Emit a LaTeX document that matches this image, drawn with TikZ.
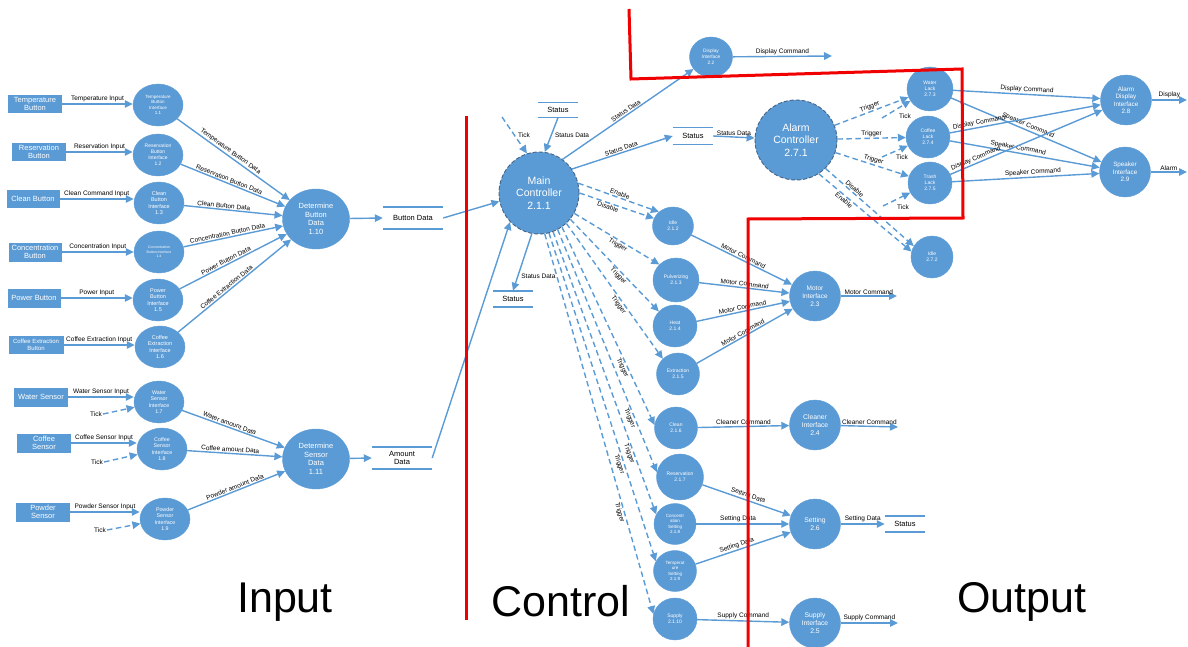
\documentclass[tikz,border=0pt]{standalone}
\usepackage{fontspec}
\setmainfont{Liberation Sans}
\usetikzlibrary{shapes.geometric,arrows.meta}
\definecolor{nblue}{RGB}{91,155,213}
\definecolor{ndash}{RGB}{70,100,135}
\definecolor{nred}{RGB}{240,0,0}
\begin{document}
\begin{tikzpicture}[x=1pt,y=-1pt,
 ent/.style={rectangle,fill=nblue,text=white,align=center,inner sep=0pt,font=\fontsize{7.5}{8.5}\selectfont},
 proc/.style={ellipse,fill=nblue,draw=nblue,text=white,align=center,inner sep=0pt},
 ctrlproc/.style={proc,draw=ndash,line width=0.9pt,dash pattern=on 4pt off 2pt},
 store/.style={inner sep=0pt,align=center,font=\fontsize{7.5}{8.5}\selectfont},
 flow/.style={draw=nblue,line width=1.4pt,-{Triangle[length=8pt,width=7.5pt]}},
 ctl/.style={flow,dash pattern=on 5.5pt off 3.5pt},
 lbl/.style={font=\fontsize{6.5}{7.5}\selectfont,inner sep=1pt,text=black},
 redl/.style={draw=nred,line width=3pt},
 big/.style={font=\fontsize{43}{50}\selectfont,inner sep=0pt},
 fs/.style 2 args={font=\fontsize{#1}{#2}\selectfont},
 wh/.style 2 args={minimum width=#1,minimum height=#2}]
\useasboundingbox (0,0) rectangle (1188,647);

% ---------- Input entities ----------
\node[ent,wh={54}{18}] (eTemp) at (35,104) {Temperature\\Button};
\node[ent,wh={54}{18}] (eRes) at (39,152) {Reservation\\Button};
\node[ent,wh={53}{18}] (eClean) at (33,199) {Clean Button};
\node[ent,wh={53}{19}] (eConc) at (35,252) {Concentration\\Button};
\node[ent,wh={53}{19}] (ePow) at (34,298) {Power Button};
\node[ent,wh={55}{18},fs={6}{7.5}] (eCoffEx) at (36,345) {Coffee Extraction\\Button};
\node[ent,wh={54}{19}] (eWater) at (41,397) {Water Sensor};
\node[ent,wh={54}{19}] (eCoffS) at (44,443) {Coffee\\Sensor};
\node[ent,wh={54}{19}] (ePowd) at (43,512) {Powder\\Sensor};

% ---------- Input interfaces ----------
\node[proc,wh={50}{42},fs={4.5}{5.2}] (i11) at (158,105) {Temperature\\Button\\Interface\\1.1};
\node[proc,wh={50}{42},fs={5}{6}] (i12) at (158,155) {Reservation\\Button\\Interface\\1.2};
\node[proc,wh={50}{42},fs={5.5}{6.5}] (i13) at (159,203) {Clean\\Button\\Interface\\1.3};
\node[proc,wh={50}{42},fs={3.5}{4.5}] (i14) at (159,252) {Concentration\\Button Interface\\1.4};
\node[proc,wh={50}{42},fs={5.5}{6.5}] (i15) at (158,300) {Power\\Button\\Interface\\1.5};
\node[proc,wh={50}{42},fs={5.5}{6.5}] (i16) at (160,347) {Coffee\\Extraction\\Interface\\1.6};
\node[proc,wh={50}{42},fs={5.3}{6.5}] (i17) at (159,402) {Water\\Sensor\\Interface\\1.7};
\node[proc,wh={50}{42},fs={5.3}{6.5}] (i18) at (162,449) {Coffee\\Sensor\\Interface\\1.8};
\node[proc,wh={50}{42},fs={5.3}{6.5}] (i19) at (165,519) {Powder\\Sensor\\Interface\\1.9};

\node[proc,wh={67}{60},fs={7.5}{8.5}] (dbd) at (316,219) {Determine\\Button\\Data\\1.10};
\node[proc,wh={67}{60},fs={7.5}{8.5}] (dsd) at (316,459) {Determine\\Sensor\\Data\\1.11};

% ---------- Stores ----------
\node[store,wh={60}{22}] (sBtn) at (413,218) {Button Data};
\node[store,wh={60}{22}] (sAmt) at (402,458) {Amount\\Data};
\node[store,wh={40}{15}] (sTop) at (558,110) {Status};
\node[store,wh={40}{17}] (sMid) at (693,136) {Status};
\node[store,wh={40}{16}] (sBot) at (513,299) {Status};
\node[store,wh={40}{16}] (sRight) at (905,524) {Status};
\foreach \s in {sBtn,sAmt,sTop,sMid,sBot,sRight}
  \draw[nblue,line width=1.5pt] (\s.north west) -- (\s.north east) (\s.south west) -- (\s.south east);

% ---------- Control ----------
\node[ctrlproc,wh={80}{82},fs={10.5}{12.5}] (main) at (539,193) {Main\\Controller\\2.1.1};
\node[proc,wh={43}{40},fs={4.8}{5.8}] (dispI) at (711,57) {Display\\Interface\\2.2};
\node[proc,wh={41}{38},fs={5}{6}] (idle212) at (673,226) {Idle\\2.1.2};
\node[proc,wh={46}{44},fs={5}{6}] (pulv) at (676,280) {Pulverizing\\2.1.3};
\node[proc,wh={44}{42},fs={5}{6}] (heat) at (675,326) {Heat\\2.1.4};
\node[proc,wh={43}{42},fs={5}{6}] (extr) at (678,374) {Extraction\\2.1.5};
\node[proc,wh={43}{42},fs={5}{6}] (clean) at (676,428) {Clean\\2.1.6};
\node[proc,wh={47}{46},fs={5}{6}] (resv) at (680,477) {Reservation\\2.1.7};
\node[proc,wh={42}{41},fs={4.5}{5.5}] (conc) at (675,524) {Concentr\\ation\\Setting\\2.1.8};
\node[proc,wh={43}{41},fs={4.5}{5.5}] (temp) at (675,571) {Temperat\\ure\\Setting\\2.1.9};
\node[proc,wh={44}{42},fs={5}{6}] (supply) at (675,619) {Supply\\2.1.10};

% ---------- Output ----------
\node[proc,wh={51}{50},fs={6.5}{8}] (motor) at (815,296) {Motor\\Interface\\2.3};
\node[proc,wh={51}{50},fs={6.8}{8}] (cleaner) at (815,425) {Cleaner\\Interface\\2.4};
\node[proc,wh={51}{50},fs={6.8}{8}] (setting) at (815,524) {Setting\\2.6};
\node[proc,wh={51}{50},fs={6.8}{8}] (supplyI) at (815,623) {Supply\\Interface\\2.5};

\node[ctrlproc,wh={82}{80},fs={10.5}{12.5}] (alarm) at (796,140) {Alarm\\Controller\\2.7.1};
\node[proc,wh={46}{44},fs={5}{6}] (waterL) at (930,89) {Water\\Lack\\2.7.3};
\node[proc,wh={44}{42},fs={5}{6}] (coffL) at (928,137) {Coffee\\Lack\\2.7.4};
\node[proc,wh={44}{42},fs={5}{6}] (trashL) at (930,183) {Trash\\Lack\\2.7.5};
\node[proc,wh={42}{42},fs={5}{6}] (idle272) at (932,257) {Idle\\2.7.2};
\node[proc,wh={51}{50},fs={6.3}{7.5}] (alarmD) at (1126,100) {Alarm\\Display\\Interface\\2.8};
\node[proc,wh={51}{50},fs={6.3}{7.5}] (speaker) at (1125,172) {Speaker\\Interface\\2.9};

% free ends
\coordinate (dispOut) at (832,56);
\coordinate (motorOut) at (897,296);
\coordinate (cleanerOut) at (898,427);
\coordinate (supplyOut) at (898,623);
\coordinate (displayOut) at (1187,100);
\coordinate (alarmOut) at (1187,172);
\coordinate (tkMain) at (502,117);
\coordinate (tk273) at (882,118);
\coordinate (tk274) at (882,157);
\coordinate (tk275) at (883,206);

% ---------- Input flows ----------
\draw[flow] (eTemp.east) -- node[lbl,above]{Temperature Input} (eTemp.east -| i11.west);
\draw[flow] (eRes.east) -- node[lbl,above]{Reservation Input} (eRes.east -| i12.west);
\draw[flow] (eClean.east) -- node[lbl,above]{Clean Command Input} (eClean.east -| i13.west);
\draw[flow] (eConc.east) -- node[lbl,above]{Concentration Input} (eConc.east -| i14.west);
\draw[flow] (ePow.east) -- node[lbl,above]{Power Input} (ePow.east -| i15.west);
\draw[flow] (eCoffEx.east) -- node[lbl,above]{Coffee Extraction Input} (eCoffEx.east -| i16.west);
\draw[flow] (eWater.east) -- node[lbl,above]{Water Sensor Input} (eWater.east -| i17.west);
\draw[flow] (eCoffS.east) -- node[lbl,above]{Coffee Sensor Input} (eCoffS.east -| i18.west);
\draw[flow] (ePowd.east) -- node[lbl,above]{Powder Sensor Input} (ePowd.east -| i19.west);

\node[lbl] (tk17) at (96,414) {Tick};
\node[lbl] (tk18) at (97,462) {Tick};
\node[lbl] (tk19) at (100,530) {Tick};
\draw[ctl] (tk17.east) -- (i17);
\draw[ctl] (tk18.east) -- (i18);
\draw[ctl] (tk19.east) -- (i19);

\draw[flow] (i11) -- node[lbl,sloped,above,pos=0.45]{Temperature Button Data} (dbd);
\draw[flow] (i12) -- node[lbl,sloped,above,pos=0.45]{Reservation Button Data} (dbd);
\draw[flow] (i13) -- node[lbl,sloped,above,pos=0.4]{Clean Button Data} (dbd);
\draw[flow] (i14) -- node[lbl,sloped,above,pos=0.45]{Concentration Button Data} (dbd);
\draw[flow] (i15) -- node[lbl,sloped,above,pos=0.45]{Power Button Data} (dbd);
\draw[flow] (i16) -- node[lbl,sloped,above,pos=0.45]{Coffee Extraction Data} (dbd);
\draw[flow] (i17) -- node[lbl,sloped,above,pos=0.45]{Water amount Data} (dsd);
\draw[flow] (i18) -- node[lbl,sloped,above,pos=0.45]{Coffee amount Data} (dsd);
\draw[flow] (i19) -- node[lbl,sloped,above,pos=0.5]{Powder amount Data} (dsd);

\draw[flow] (dbd) -- (sBtn.west);
\draw[flow] (dsd) -- (sAmt.west);
\draw[flow] (sBtn.east) -- (main.-168);
\draw[flow] (sAmt.east) -- (main.-135);

% ---------- Main controller flows ----------
\draw[ctl] (tkMain) -- node[lbl,right=2pt]{Tick} (main.107);
\draw[flow] (sTop.south) -- node[lbl,right=2pt]{Status Data} (main.82);
\draw[flow] (main.55) -- node[lbl,sloped,above,pos=0.5]{Status Data} (dispI);
\draw[flow] (main.36) -- node[lbl,sloped,above,pos=0.5]{Status Data} (sMid.west);
\draw[flow] (sMid.east) -- node[lbl,above]{Status Data} (alarm);
\draw[flow] (main.-100) -- node[lbl,right=2pt,pos=0.75]{Status Data} (sBot.north);
\draw[flow] (dispI) -- node[lbl,above]{Display Command} (dispOut);

\draw[ctl] (main.14) -- node[lbl,sloped,above,pos=0.5]{Enable} (idle212.135);
\draw[ctl] (main.0) -- node[lbl,sloped,below,pos=0.4]{Disable} (idle212.158);
\draw[ctl] (main.-30) -- node[lbl,sloped,below,pos=0.54]{Trigger} (pulv.137);
\draw[ctl] (main.-40) -- node[lbl,sloped,below,pos=0.58]{Trigger} (heat.138);
\draw[ctl] (main.-48) -- node[lbl,sloped,below,pos=0.58]{Trigger} (extr.135);
\draw[ctl] (main.-56) -- node[lbl,sloped,below,pos=0.7]{Trigger} (clean.172);
\draw[ctl] (main.-63) -- node[lbl,sloped,below,pos=0.77]{Trigger} (resv.168);
\draw[ctl] (main.-70) -- node[lbl,sloped,below,pos=0.78]{Trigger} (conc.153);
\draw[ctl] (main.-76) -- node[lbl,sloped,below,pos=0.7]{Trigger} (temp.153);
\draw[ctl] (main.-82) -- node[lbl,sloped,below,pos=0.73]{Trigger} (supply.167);

\draw[flow] (idle212) -- node[lbl,sloped,above,pos=0.5]{Motor Command} (motor);
\draw[flow] (pulv) -- node[lbl,sloped,above,pos=0.5]{Motor Command} (motor);
\draw[flow] (heat) -- node[lbl,sloped,above,pos=0.5]{Motor Command} (motor);
\draw[flow] (extr) -- node[lbl,sloped,above,pos=0.5]{Motor Command} (motor);
\draw[flow] (motor) -- node[lbl,above]{Motor Command} (motorOut);
\draw[flow] (clean) -- node[lbl,above]{Cleaner Command} (cleaner);
\draw[flow] (cleaner) -- node[lbl,above]{Cleaner Command} (cleanerOut);
\draw[flow] (resv) -- node[lbl,sloped,above,pos=0.5]{Setting Data} (setting);
\draw[flow] (conc) -- node[lbl,sloped,above,pos=0.45]{Setting Data} (setting);
\draw[flow] (temp) -- node[lbl,sloped,above,pos=0.45]{Setting Data} (setting);
\draw[flow] (setting) -- node[lbl,above]{Setting Data} (sRight.west);
\draw[flow] (supply) -- node[lbl,above]{Supply Command} (supplyI);
\draw[flow] (supplyI) -- node[lbl,above]{Supply Command} (supplyOut);

% ---------- Alarm flows ----------
\draw[ctl] (alarm) -- node[lbl,sloped,above,pos=0.5]{Trigger} (waterL);
\draw[ctl] (alarm) -- node[lbl,sloped,above,pos=0.5]{Trigger} (coffL);
\draw[ctl] (alarm) -- node[lbl,sloped,above,pos=0.5]{Trigger} (trashL);
\draw[ctl] (alarm.-44) -- node[lbl,sloped,above,pos=0.3]{Disable} (idle272.149);
\draw[ctl] (alarm.-56) -- node[lbl,sloped,below,pos=0.3]{Enable} (idle272.165);
\draw[ctl] (tk273) -- (waterL);
\draw[ctl] (tk274) -- (coffL);
\draw[ctl] (tk275) -- (trashL);
\node[lbl] (tl273) at (905,116) {Tick};
\node[lbl] (tl274) at (902,157) {Tick};
\node[lbl] (tl275) at (903,207) {Tick};

\draw[flow] (waterL) -- node[lbl,above,sloped,pos=0.5]{Display Command} (alarmD);
\draw[flow] (waterL) -- node[lbl,above,sloped,pos=0.5]{Speaker Command} (speaker);
\draw[flow] (coffL) -- node[lbl,above,sloped,pos=0.2]{Display Command} (alarmD);
\draw[flow] (coffL) -- node[lbl,above,sloped,pos=0.45]{Speaker Command} (speaker);
\draw[flow] (trashL) -- node[lbl,above,sloped,pos=0.18]{Display Command} (alarmD);
\draw[flow] (trashL) -- node[lbl,above,sloped,pos=0.55]{Speaker Command} (speaker);
\draw[flow] (alarmD) -- node[lbl,above]{Display} (displayOut);
\draw[flow] (speaker) -- node[lbl,above]{Alarm} (alarmOut);

% ---------- Region titles ----------
\node[big] (tIn) at (285,602) {Input};
\node[big] (tCtl) at (561,601) {Control};
\node[big] (tOut) at (1022,602) {Output};

% ---------- Red boundaries ----------
\draw[redl] (466,116) -- (466,620);
\draw[redl] (629,9) -- (631,79) -- (962,69) -- (963,218) -- (748,219) -- (748,647);
\end{tikzpicture}
\end{document}
